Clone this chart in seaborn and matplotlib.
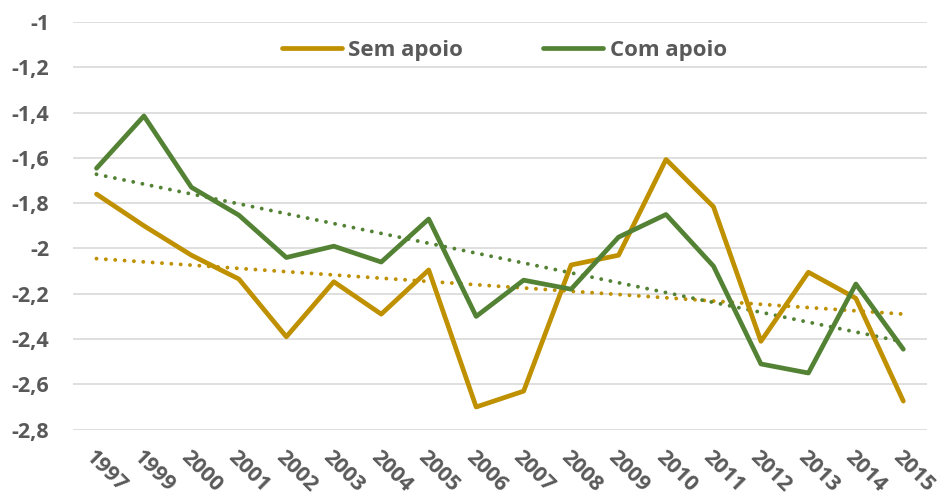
import numpy as np
import pandas as pd
import matplotlib
matplotlib.use("Agg")
import matplotlib.pyplot as plt
import seaborn as sns

years = ["1997", "1999", "2000", "2001", "2002", "2003", "2004", "2005", "2006",
         "2007", "2008", "2009", "2010", "2011", "2012", "2013", "2014", "2015"]
sem_apoio = [-1.76, -1.90, -2.03, -2.135, -2.39, -2.147, -2.29, -2.095, -2.70,
             -2.63, -2.073, -2.03, -1.607, -1.816, -2.41, -2.105, -2.22, -2.674]
com_apoio = [-1.646, -1.415, -1.73, -1.853, -2.04, -1.99, -2.06, -1.87, -2.30,
             -2.14, -2.18, -1.95, -1.85, -2.078, -2.51, -2.55, -2.157, -2.445]
yticks = [-2.8, -2.6, -2.4, -2.2, -2.0, -1.8, -1.6, -1.4, -1.2, -1.0]

gold = "#BF9000"
green = "#548235"
text_gray = "#595959"

sns.set_theme(style="white")
plt.rcParams["font.family"] = ["Open Sans", "DejaVu Sans"]

pos = np.arange(len(years))
df = pd.DataFrame({
    "pos": np.concatenate([pos, pos]),
    "valor": sem_apoio + com_apoio,
    "serie": ["Sem apoio"] * len(years) + ["Com apoio"] * len(years),
})

fig = plt.figure(figsize=(9.45, 4.99), dpi=100)
ax = fig.add_axes([0.077, 0.139, 0.904, 0.817])

sns.lineplot(data=df, x="pos", y="valor", hue="serie",
             palette={"Sem apoio": gold, "Com apoio": green},
             linewidth=3.4, ax=ax, zorder=3)

# linhas de tendência (lineares)
for vals, col in [(sem_apoio, gold), (com_apoio, green)]:
    sns.regplot(x=pos, y=np.array(vals), scatter=False, ci=None, ax=ax,
                line_kws=dict(color=col, linestyle=(0, (0.01, 2.4)),
                              linewidth=2.8, dash_capstyle="round", zorder=2))

ax.set_xlim(-0.5, len(years) - 0.5)
ax.set_ylim(-2.8, -1.0)
ax.set_yticks(yticks)
ax.set_yticklabels([f"{v:g}".replace(".", ",") for v in yticks])
ax.set_xticks(pos)
ax.set_xticklabels(years, rotation=-45, ha="left", rotation_mode="anchor")
ax.tick_params(axis="both", length=0, labelsize=15.5, colors=text_gray)
ax.tick_params(axis="y", pad=17)
ax.tick_params(axis="x", pad=12)
for lab in ax.get_xticklabels() + ax.get_yticklabels():
    lab.set_fontweight("bold")

ax.grid(axis="y", color="#D9D9D9", linewidth=1.2)
ax.set_axisbelow(True)
for s in ax.spines.values():
    s.set_visible(False)
ax.set_xlabel("")
ax.set_ylabel("")

handles, labels = ax.get_legend_handles_labels()
leg = ax.legend(handles[:2], labels[:2], ncol=2, loc="center",
                bbox_to_anchor=(0.505, 0.931), frameon=False,
                handlelength=2.7, handletextpad=0.3, columnspacing=3.6,
                prop={"size": 16, "weight": "bold"})
for t in leg.get_texts():
    t.set_color(text_gray)

fig.savefig("out.png", dpi=100)
